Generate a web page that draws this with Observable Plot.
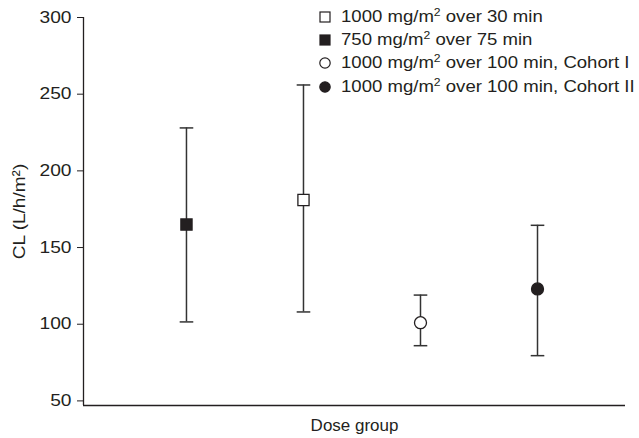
<!DOCTYPE html>
<html>
<head>
<meta charset="utf-8">
<script src="https://cdn.jsdelivr.net/npm/d3@7"></script>
<script src="https://cdn.jsdelivr.net/npm/@observablehq/plot@0.6"></script>
<style>
  html, body { margin: 0; padding: 0; background: #fff; }
  #wrap { position: relative; width: 639px; height: 438px; font-family: "Liberation Sans", Arial, Helvetica, sans-serif; color: #231f20; }
  #legend { position: absolute; left: 319px; top: 5px; font-size: 16px; }
  #legend .row { height: 23.4px; display: flex; align-items: center; white-space: nowrap; }
  #legend svg { margin-right: 10px; flex: none; }
  #legend span { display: inline-block; transform: scaleX(1.16); transform-origin: 0 50%; }
  #legend sup { font-size: 10.5px; vertical-align: 6px; line-height: 0; }
</style>
</head>
<body>
<div id="wrap"><div id="legend"></div></div>
<script>
// ---- data ----
const groups = [
  "750 mg/m² over 75 min",
  "1000 mg/m² over 30 min",
  "1000 mg/m² over 100 min, Cohort I",
  "1000 mg/m² over 100 min, Cohort II"
];
const means = [165, 181, 101, 123];
const lows  = [101.5, 108, 86, 79.5];
const highs = [228, 256, 119, 164.5];
const yTicks = [50, 100, 150, 200, 250, 300];
const legendOrder = [1, 0, 2, 3]; // indices into groups, as listed in the legend
const yLabel = "CL (L/h/m²)";
const xLabel = "Dose group";

// ---- styles ----
const ink = "#231f20";
const styles = [
  {symbol: "square", fill: ink},
  {symbol: "square", fill: "white"},
  {symbol: "circle", fill: "white"},
  {symbol: "circle", fill: ink}
];

const rows = groups.map((g, i) => ({group: g, pos: i + 1, mean: means[i], lo: lows[i], hi: highs[i], i}));

const xDomain = [0.12, 4.752];
const yDomain = [47, 300];

const capSymbol = {
  draw(ctx, size) {
    const r = Math.sqrt(size / Math.PI);
    ctx.moveTo(-r, 0);
    ctx.lineTo(r, 0);
  }
};

const chart = Plot.plot({
  width: 639,
  height: 438,
  marginLeft: 83,
  marginRight: 14,
  marginTop: 17,
  marginBottom: 33,
  style: {fontFamily: '"Liberation Sans", Arial, Helvetica, sans-serif', fontSize: "16px", color: ink, background: "white"},
  x: {domain: xDomain, axis: null},
  y: {domain: yDomain, axis: null},
  marks: [
    Plot.axisY({ticks: yTicks, tickSize: 6, tickPadding: 6, fontSize: 16, label: null, stroke: ink, fill: ink}),
    Plot.ruleX([xDomain[0]], {stroke: ink, strokeWidth: 1.3}),
    Plot.ruleY([yDomain[0]], {stroke: ink, strokeWidth: 1.3}),
    Plot.text([yLabel], {frameAnchor: "left", textAnchor: "middle", lineAnchor: "middle", rotate: -90, dx: -64, fontSize: 17, fill: ink}),
    Plot.text([xLabel], {frameAnchor: "bottom", textAnchor: "middle", lineAnchor: "middle", dy: 20, fontSize: 16.5, fill: ink}),
    Plot.ruleX(rows, {x: "pos", y1: "lo", y2: "hi", stroke: "#333", strokeWidth: 1.5}),
    Plot.dot(rows, {x: "pos", y: "lo", symbol: capSymbol, r: 6.8, stroke: "#333", strokeWidth: 1.5, fill: "none"}),
    Plot.dot(rows, {x: "pos", y: "hi", symbol: capSymbol, r: 6.8, stroke: "#333", strokeWidth: 1.5, fill: "none"}),
    ...rows.map(d => Plot.dot([d], {
      x: "pos", y: "mean",
      symbol: styles[d.i].symbol,
      r: styles[d.i].symbol === "square" ? 6.3 : 6,
      fill: styles[d.i].fill,
      stroke: ink,
      strokeWidth: 1.3
    }))
  ]
});

// widen text horizontally (the reference lettering is slightly stretched)
const tickStrings = new Set(yTicks.map(String));
d3.select(chart).selectAll("text").each(function() {
  const s = this.textContent;
  const k = tickStrings.has(s) ? 1.2 : s === yLabel ? 1.12 : s === xLabel ? 1.03 : 1;
  if (k === 1) return;
  const x = +this.getAttribute("x") || 0, y = +this.getAttribute("y") || 0;
  const t = this.getAttribute("transform") || "";
  this.setAttribute("transform", `${t} translate(${x},${y}) scale(${k},1) translate(${-x},${-y})`);
});

document.getElementById("wrap").prepend(chart);
chart.style.position = "absolute";
chart.style.left = "0";
chart.style.top = "0";

// ---- legend ----
const legend = document.getElementById("legend");
for (const i of legendOrder) {
  const st = styles[i];
  const row = document.createElement("div");
  row.className = "row";
  const shape = st.symbol === "square"
    ? `<rect x="1" y="1" width="10" height="10" fill="${st.fill}" stroke="${ink}" stroke-width="1.2"/>`
    : `<circle cx="6" cy="6" r="5.2" fill="${st.fill}" stroke="${ink}" stroke-width="1.2"/>`;
  const html = groups[i].replace("²", "<sup>2</sup>");
  row.innerHTML = `<svg width="12" height="12">${shape}</svg><span>${html}</span>`;
  legend.appendChild(row);
}
</script>
</body>
</html>
